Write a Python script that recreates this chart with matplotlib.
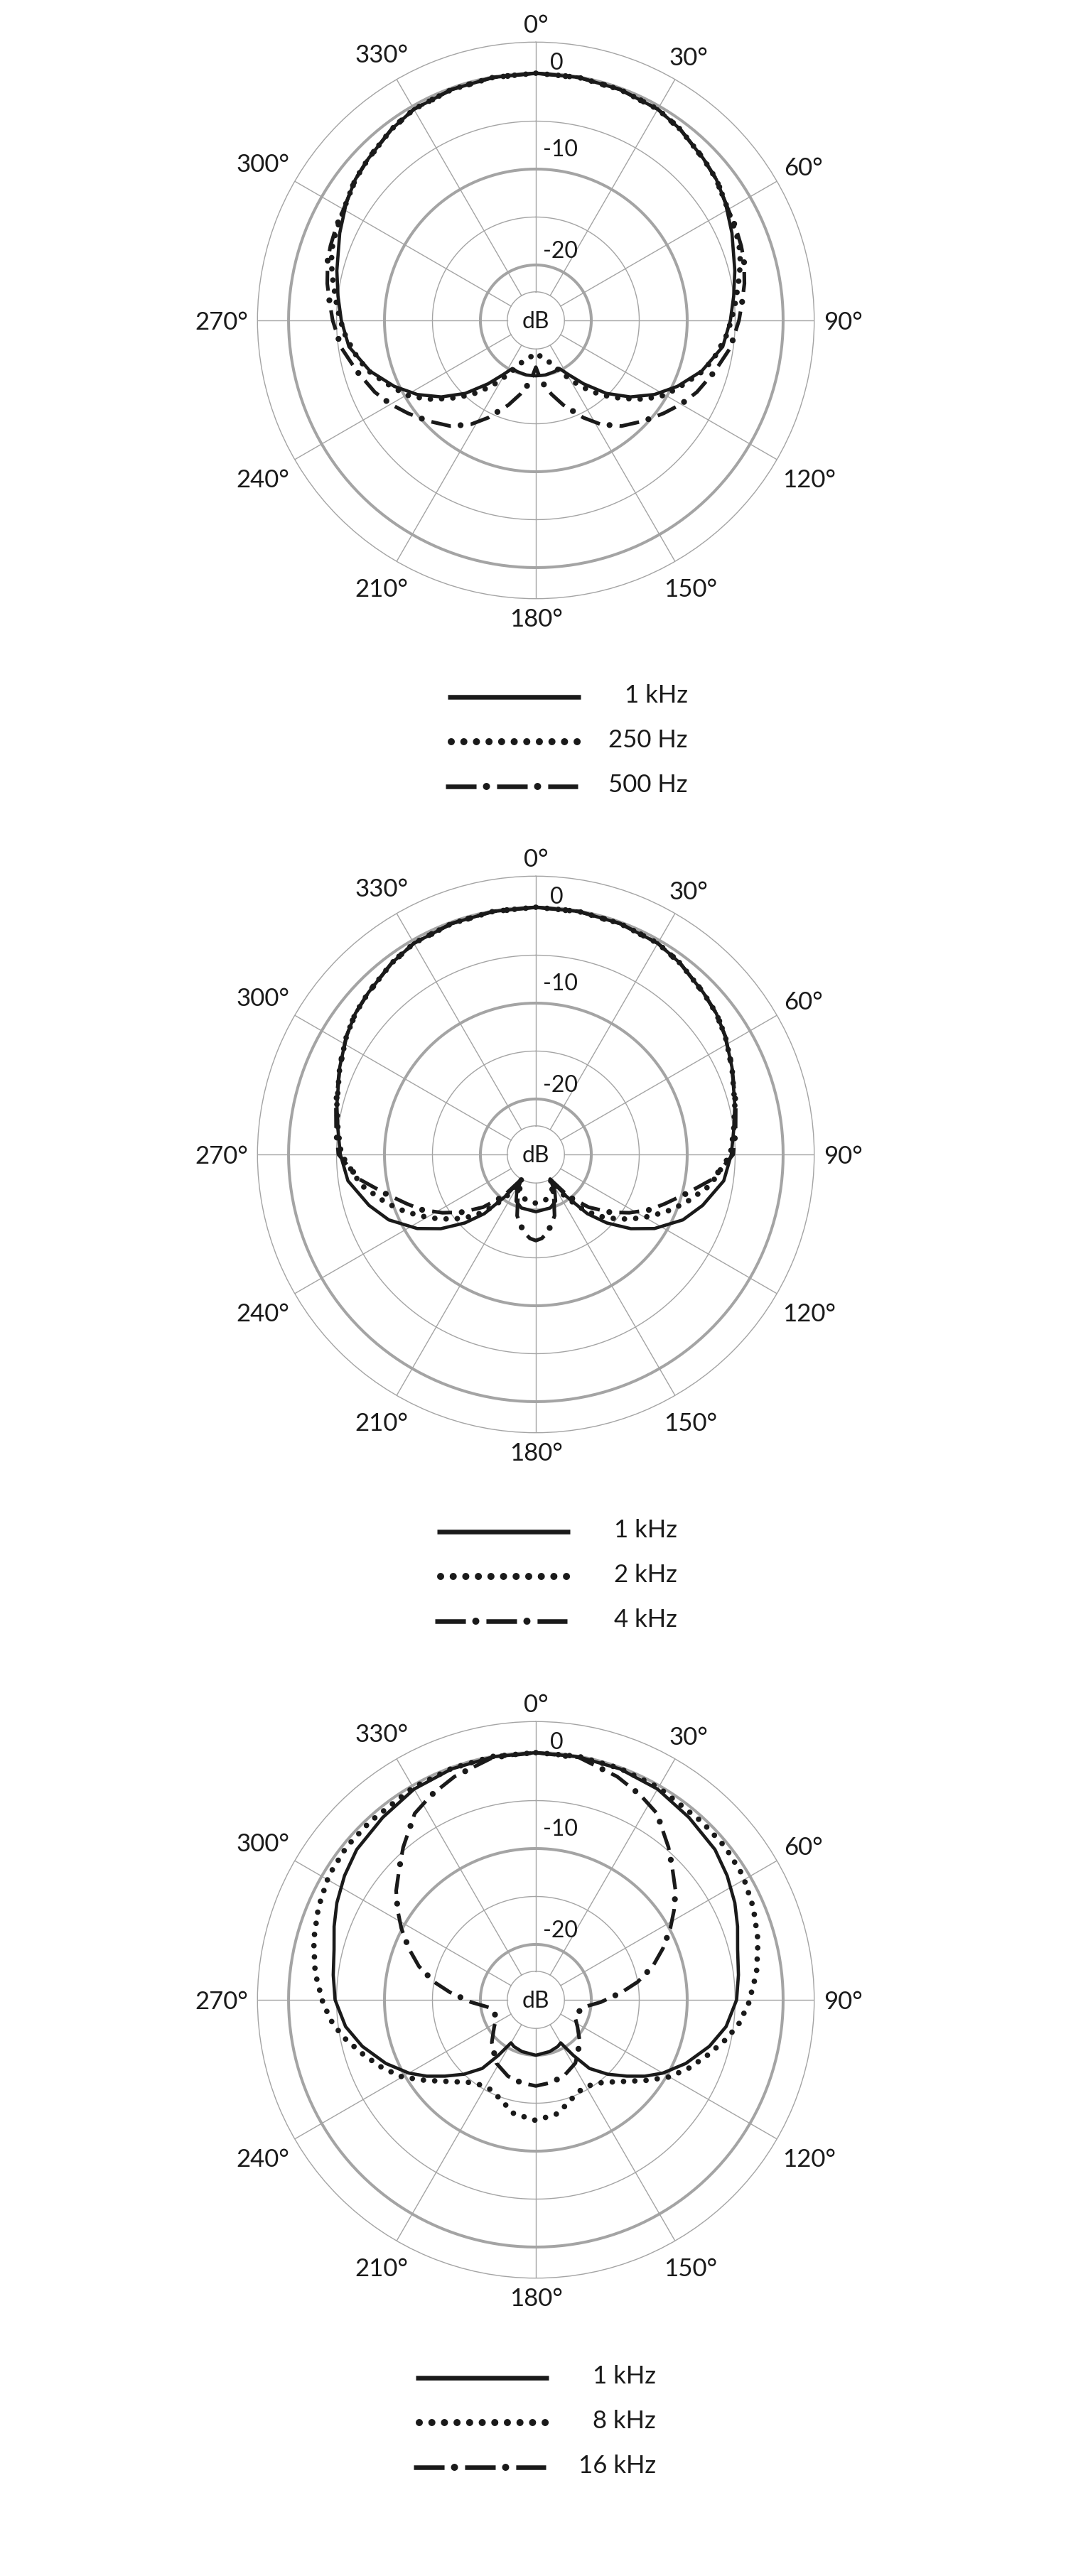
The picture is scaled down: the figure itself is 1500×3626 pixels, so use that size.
import matplotlib
matplotlib.use('Agg')
import matplotlib.pyplot as plt
import numpy as np

plt.rcParams['font.family'] = ['Lato', 'DejaVu Sans']
plt.rcParams['lines.scale_dashes'] = False

INK = '#1a1a1a'
GRID = '#a4a4a4'

# radial scale of the plots (dB): centre and outer circle
DB_MIN = -25.78
DB_MAX = 3.24
ring_major = [0, -10, -20]
ring_minor = [-5, -15]
ring_center = -22.8
level_labels = ['0', '-10', '-20']

angle_ticks = [0, 30, 60, 90, 120, 150, 180, 210, 240, 270, 300, 330]
angle_labels = ['0°', '30°', '60°', '90°', '120°', '150°', '180°',
                '210°', '240°', '270°', '300°', '330°']

# chart 1 (one side, 0..180 deg, patterns are symmetric)
c1_1k_ang = [0, 10, 20, 30, 37, 46, 52, 58, 66, 76, 83, 90, 98, 107, 115, 122,
             129, 136, 143, 149, 154, 160, 170, 180]
c1_1k_db = [0, -0.05, -0.15, -0.35, -0.8, -1.5, -1.9, -2.5, -3.4, -4.4, -5.0, -5.5,
            -6.1, -7.7, -9.5, -11.2, -13.1, -15.2, -17.5, -19.2, -20.2, -20.1, -20.0, -20.0]
c1_250_ang = [0, 10, 20, 30, 37, 46, 52, 58, 64, 69, 74, 78, 82, 86, 90, 95, 102, 107,
              113, 120, 126, 132, 139, 146, 154, 160, 170, 180]
c1_250_db = [0, -0.05, -0.15, -0.35, -0.8, -1.5, -1.9, -2.5, -2.9, -3.1, -3.6, -4.1,
             -4.6, -5.0, -5.4, -5.9, -6.8, -7.6, -8.9, -10.2, -11.8, -13.6, -15.5, -17.5,
             -19.7, -21.0, -21.8, -22.4]
c1_500_ang = [0, 10, 20, 30, 37, 46, 52, 58, 65, 70, 74, 80, 85, 90, 98, 106, 114, 120,
              126, 133, 141, 148, 154, 162, 168, 172, 176, 180]
c1_500_db = [0, -0.05, -0.15, -0.35, -0.8, -1.5, -1.9, -2.5, -2.8, -3.0, -3.2, -3.7,
             -4.2, -4.6, -5.3, -6.4, -7.4, -8.3, -9.3, -10.4, -11.6, -13.0, -14.5, -16.5,
             -17.9, -18.8, -19.8, -20.9]

# chart 2
c2_1k_ang = [0, 10, 20, 30, 37, 46, 52, 58, 66, 76, 83, 90, 98, 107, 114, 122, 128,
             134, 139, 144, 150, 153, 157, 165, 180]
c2_1k_db = [0, -0.05, -0.15, -0.35, -0.8, -1.5, -1.9, -2.5, -3.4, -4.4, -5.0, -5.4,
            -6.0, -7.6, -9.0, -11.2, -13.2, -15.5, -17.6, -20.4, -22.8, -21.4, -20.5,
            -20.0, -19.8]
c2_2k_ang = [0, 10, 20, 30, 37, 46, 52, 58, 66, 76, 83, 90, 100, 108, 114, 121, 128,
             135, 141, 146, 150, 153, 160, 166, 172, 180]
c2_2k_db = [0, -0.05, -0.15, -0.35, -0.8, -1.5, -1.9, -2.5, -3.4, -4.4, -5.0, -5.5,
            -7.3, -9.4, -11.0, -12.9, -14.8, -16.7, -18.8, -20.8, -22.8, -21.6, -21.2,
            -21.0, -20.8, -20.7]
c2_4k_ang = [0, 10, 20, 30, 37, 46, 52, 58, 66, 76, 83, 90, 98, 105, 111, 116, 122,
             128, 135, 142, 150, 157, 163, 168, 172, 176, 180]
c2_4k_db = [0, -0.05, -0.15, -0.35, -0.8, -1.5, -1.9, -2.5, -3.4, -4.3, -4.8, -5.2,
            -7.2, -9.7, -11.4, -12.6, -14.3, -16.0, -18.0, -20.2, -22.8, -21.0, -19.1,
            -18.2, -17.5, -17.0, -16.8]

# chart 3
c3_1k_ang = [0, 10, 20, 30, 40, 50, 57, 64, 70, 76, 83, 90, 98, 105, 113, 120, 125,
             130, 136, 142, 146, 150, 155, 165, 180]
c3_1k_db = [0, -0.05, -0.15, -0.4, -0.95, -1.4, -2.0, -2.7, -3.4, -4.1, -4.5, -4.85,
            -5.75, -7.05, -8.8, -10.5, -11.9, -13.4, -15.0, -16.7, -18.8, -20.6, -20.4,
            -20.2, -20.0]
c3_8k_ang = [0, 10, 20, 30, 43, 51, 59, 67, 75, 83, 91, 97, 102, 108, 114, 120, 126,
             133, 141, 147, 153, 159, 169, 180]
c3_8k_db = [0, 0, -0.1, -0.2, -0.4, -0.4, -0.6, -1.15, -1.8, -2.6, -3.6, -4.5, -5.6,
            -7.0, -8.3, -9.7, -11.5, -13.3, -14.7, -15.2, -15.3, -14.9, -13.7, -13.2]
c3_16k_ang = [0, 10, 20, 27, 33, 41, 46, 52, 57, 62, 68, 74, 80, 85, 92, 99, 107, 114,
              123, 134, 148, 160, 170, 180]
c3_16k_db = [0, -0.1, -1.0, -1.8, -2.6, -4.7, -6.0, -7.3, -8.6, -9.9, -11.5, -13.1,
             -15.0, -16.8, -19.0, -20.8, -21.2, -21.3, -20.6, -19.4, -18.0, -17.3, -17.0,
             -16.8]

legend1 = ['1 kHz', '250 Hz', '500 Hz']
legend2 = ['1 kHz', '2 kHz', '4 kHz']
legend3 = ['1 kHz', '8 kHz', '16 kHz']

W, H = 1500, 3626
R_PX = 391.7
PT = 0.72  # points per pixel at 100 dpi
centers = [(754, 451), (754, 1625), (754, 2815)]
legend_x = [630, 615, 585]
legend_y = [981, 2156, 3347]
legend_right = [968, 953, 923]


def mirror(ang, db):
    ang = np.asarray(ang, float)
    db = np.asarray(db, float)
    th = np.concatenate([ang, 360 - ang[::-1][1:]])
    r = np.concatenate([db, db[::-1][1:]])
    return np.deg2rad(th), r


def draw_solid(ax, th, r, lw=3.3):
    ax.plot(th, r, color=INK, lw=lw, solid_joinstyle='round', zorder=5)


def draw_dots(ax, th, r, lw=5.6, period=11.4):
    ax.plot(th, r, color=INK, lw=lw, linestyle=(0, (0.01, period)),
            dash_capstyle='round', zorder=5)


def draw_dashdot(ax, th, r, lw=3.7, dash=20.2, gap=20.1, dot_lw=6.0):
    period = dash + gap
    ax.plot(th, r, color=INK, lw=lw, linestyle=(0, (dash, gap)),
            dash_capstyle='butt', zorder=5)
    ax.plot(th, r, color=INK, lw=dot_lw,
            linestyle=(period - dash - gap / 2, (0.01, period)),
            dash_capstyle='round', zorder=5)


def make_polar(cx, cy):
    ax = fig.add_axes([(cx - R_PX) / W, 1 - (cy + R_PX) / H, 2 * R_PX / W, 2 * R_PX / H],
                      projection='polar')
    ax.set_theta_zero_location('N')
    ax.set_theta_direction(-1)
    ax.set_ylim(DB_MIN, DB_MAX)
    ax.set_xticks([])
    ax.set_yticks([])
    ax.grid(False)
    ax.spines['polar'].set_color(GRID)
    ax.spines['polar'].set_linewidth(1.0)
    full = np.linspace(0, 2 * np.pi, 361)
    for v in ring_major:
        ax.plot(full, np.full_like(full, v), color=GRID, lw=2.9, zorder=2)
    for v in ring_minor + [ring_center]:
        ax.plot(full, np.full_like(full, v), color=GRID, lw=1.0, zorder=2)
    for a in angle_ticks:
        ax.plot([np.deg2rad(a)] * 2, [ring_center, DB_MAX], color=GRID, lw=1.0, zorder=1)
    ax.annotate('dB', xy=(0, DB_MIN), xytext=(0, -11 * PT), textcoords='offset points',
                ha='center', va='baseline', fontsize=23, color=INK)
    for lab, (dx, dy) in zip(level_labels, [(29, 365), (34, 243), (34, 99.5)]):
        ax.annotate(lab, xy=(0, DB_MIN), xytext=(dx * PT, (dy - 11.5) * PT),
                    textcoords='offset points', ha='center', va='baseline',
                    fontsize=23, color=INK)
    texts = []
    for a, lab in zip(angle_ticks, angle_labels):
        t = ax.annotate(lab, xy=(0, DB_MIN), xytext=(0, 0), textcoords='offset points',
                        ha='center', va='baseline', fontsize=25, color=INK)
        texts.append((t, a))
    return ax, texts


fig = plt.figure(figsize=(W / 100, H / 100), dpi=100)
fig.patch.set_facecolor('white')

charts = [
    ([(c1_1k_ang, c1_1k_db), (c1_250_ang, c1_250_db), (c1_500_ang, c1_500_db)], legend1),
    ([(c2_1k_ang, c2_1k_db), (c2_2k_ang, c2_2k_db), (c2_4k_ang, c2_4k_db)], legend2),
    ([(c3_1k_ang, c3_1k_db), (c3_8k_ang, c3_8k_db), (c3_16k_ang, c3_16k_db)], legend3),
]

all_texts = []
for (cx, cy), (series, _) in zip(centers, charts):
    ax, texts = make_polar(cx, cy)
    all_texts += texts
    th, r = mirror(*series[1])
    draw_dots(ax, th, r)
    th, r = mirror(*series[2])
    draw_dashdot(ax, th, r)
    th, r = mirror(*series[0])
    draw_solid(ax, th, r)

# legends, drawn in pixel coordinates on an overlay
lax = fig.add_axes([0, 0, 1, 1])
lax.set_xlim(0, W)
lax.set_ylim(H, 0)
lax.axis('off')
for (series, names), x0, y0, xr in zip(charts, legend_x, legend_y, legend_right):
    length = 187
    lax.plot([x0, x0 + length], [y0, y0], color=INK, lw=4.7, solid_capstyle='butt')
    lax.plot([x0 + 5, x0 + 183], [y0 + 63, y0 + 63], color=INK, lw=7.2,
             linestyle=(0, (0.01, 12.74)), dash_capstyle='round')
    xd = x0 - 3
    lax.plot([xd, xd + 186], [y0 + 126, y0 + 126], color=INK, lw=4.7,
             linestyle=(0, (31.0, 20.8)), dash_capstyle='butt')
    lax.plot([xd, xd + 186], [y0 + 126, y0 + 126], color=INK, lw=7.2,
             linestyle=(51.8 - 41.4, (0.01, 51.8)), dash_capstyle='round')
    for i, name in enumerate(names):
        lax.text(xr, y0 + 63 * i + 8, name, ha='right', va='baseline',
                 fontsize=25, color=INK)

# place the angle labels just outside the outer circle
fig.canvas.draw()
rend = fig.canvas.get_renderer()
for t, a in all_texts:
    w = t.get_window_extent(rend).width
    s, c = np.sin(np.deg2rad(a)), np.cos(np.deg2rad(a))
    rr = R_PX + 13 + 0.5 * (abs(s) * w + abs(c) * 26)
    t.xyann = (rr * s * PT, (rr * c - 13) * PT)

fig.savefig('out.png', dpi=100, facecolor='white')
